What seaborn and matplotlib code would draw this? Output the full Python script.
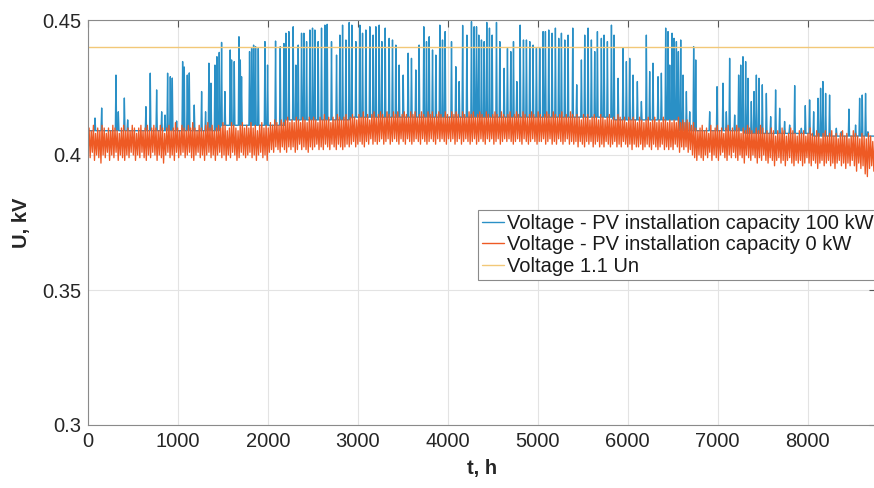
import matplotlib
matplotlib.use("Agg")
import matplotlib.pyplot as plt
import numpy as np
import pandas as pd
import seaborn as sns

# hourly voltage over one year (thinned out)
HOURS = 8760
DAY = 24          # orange band: one low (night) and one high per day

# PV 0 kW: daily low / high of the band, 15 days per row
orange_lo = [
    0.400, 0.399, 0.401, 0.398, 0.400, 0.399, 0.397, 0.400, 0.399, 0.401, 0.398, 0.400, 0.399, 0.401, 0.398,
    0.400, 0.399, 0.398, 0.400, 0.399, 0.401, 0.400, 0.398, 0.400, 0.399, 0.401, 0.399, 0.398, 0.400, 0.399,
    0.401, 0.400, 0.398, 0.400, 0.399, 0.397, 0.400, 0.401, 0.399, 0.400, 0.398, 0.401, 0.399, 0.400, 0.401,
    0.399, 0.400, 0.401, 0.399, 0.398, 0.400, 0.401, 0.399, 0.400, 0.398, 0.400, 0.401, 0.399, 0.400, 0.398,
    0.400, 0.401, 0.399, 0.400, 0.398, 0.400, 0.399, 0.401, 0.400, 0.398, 0.399, 0.401, 0.400, 0.399, 0.400,
    0.401, 0.399, 0.400, 0.398, 0.400, 0.401, 0.399, 0.400, 0.398, 0.401, 0.402, 0.401, 0.403, 0.402, 0.401,
    0.403, 0.402, 0.401, 0.403, 0.402, 0.403, 0.401, 0.402, 0.404, 0.402, 0.403, 0.402, 0.401, 0.403, 0.402,
    0.403, 0.404, 0.402, 0.403, 0.402, 0.404, 0.403, 0.402, 0.404, 0.403, 0.402, 0.404, 0.403, 0.402, 0.403,
    0.404, 0.403, 0.404, 0.405, 0.403, 0.404, 0.405, 0.404, 0.403, 0.405, 0.404, 0.406, 0.404, 0.405, 0.404,
    0.405, 0.406, 0.404, 0.405, 0.406, 0.404, 0.405, 0.406, 0.405, 0.404, 0.406, 0.405, 0.404, 0.406, 0.405,
    0.404, 0.405, 0.406, 0.405, 0.404, 0.406, 0.405, 0.404, 0.405, 0.406, 0.405, 0.404, 0.406, 0.405, 0.406,
    0.405, 0.404, 0.406, 0.405, 0.406, 0.404, 0.405, 0.406, 0.404, 0.405, 0.406, 0.405, 0.404, 0.405, 0.406,
    0.404, 0.405, 0.406, 0.405, 0.404, 0.406, 0.405, 0.406, 0.404, 0.405, 0.406, 0.404, 0.405, 0.406, 0.405,
    0.406, 0.405, 0.404, 0.405, 0.406, 0.405, 0.404, 0.406, 0.405, 0.404, 0.405, 0.406, 0.405, 0.404, 0.405,
    0.405, 0.406, 0.404, 0.405, 0.406, 0.404, 0.405, 0.404, 0.406, 0.405, 0.404, 0.405, 0.406, 0.404, 0.405,
    0.404, 0.405, 0.403, 0.405, 0.404, 0.403, 0.405, 0.404, 0.405, 0.403, 0.404, 0.405, 0.403, 0.404, 0.403,
    0.405, 0.404, 0.403, 0.404, 0.405, 0.403, 0.404, 0.403, 0.405, 0.404, 0.403, 0.404, 0.402, 0.404, 0.403,
    0.403, 0.404, 0.402, 0.403, 0.404, 0.403, 0.402, 0.404, 0.403, 0.402, 0.403, 0.404, 0.402, 0.403, 0.402,
    0.403, 0.402, 0.404, 0.403, 0.401, 0.403, 0.402, 0.403, 0.401, 0.402, 0.400, 0.399, 0.398, 0.400, 0.399,
    0.398, 0.400, 0.399, 0.401, 0.398, 0.400, 0.399, 0.398, 0.400, 0.401, 0.399, 0.398, 0.400, 0.399, 0.401,
    0.399, 0.398, 0.400, 0.399, 0.397, 0.400, 0.399, 0.398, 0.400, 0.399, 0.397, 0.399, 0.398, 0.400, 0.398,
    0.397, 0.399, 0.398, 0.396, 0.398, 0.399, 0.397, 0.398, 0.396, 0.398, 0.399, 0.397, 0.396, 0.398, 0.397,
    0.398, 0.396, 0.397, 0.399, 0.397, 0.396, 0.398, 0.397, 0.395, 0.397, 0.398, 0.396, 0.397, 0.398, 0.396,
    0.397, 0.395, 0.397, 0.398, 0.396, 0.397, 0.395, 0.397, 0.396, 0.398, 0.396, 0.394, 0.397, 0.395, 0.396,
    0.393, 0.392, 0.395, 0.396, 0.394,
]
orange_hi = [
    0.410, 0.409, 0.411, 0.408, 0.410, 0.409, 0.411, 0.410, 0.408, 0.410, 0.409, 0.411, 0.410, 0.409, 0.408,
    0.410, 0.411, 0.409, 0.410, 0.409, 0.411, 0.410, 0.408, 0.410, 0.411, 0.409, 0.410, 0.411, 0.409, 0.410,
    0.411, 0.410, 0.409, 0.411, 0.410, 0.408, 0.410, 0.411, 0.409, 0.410, 0.412, 0.410, 0.409, 0.411, 0.410,
    0.409, 0.411, 0.410, 0.412, 0.410, 0.409, 0.411, 0.410, 0.409, 0.411, 0.412, 0.410, 0.411, 0.409, 0.410,
    0.411, 0.410, 0.412, 0.411, 0.409, 0.410, 0.412, 0.411, 0.410, 0.409, 0.411, 0.412, 0.410, 0.411, 0.410,
    0.412, 0.410, 0.411, 0.409, 0.411, 0.412, 0.410, 0.411, 0.410, 0.412, 0.411, 0.413, 0.412, 0.411, 0.413,
    0.412, 0.413, 0.414, 0.412, 0.413, 0.412, 0.414, 0.413, 0.412, 0.414, 0.413, 0.412, 0.414, 0.413, 0.414,
    0.413, 0.412, 0.414, 0.413, 0.415, 0.413, 0.414, 0.412, 0.414, 0.413, 0.415, 0.414, 0.413, 0.414, 0.415,
    0.413, 0.414, 0.415, 0.414, 0.413, 0.415, 0.414, 0.416, 0.414, 0.415, 0.413, 0.415, 0.416, 0.414, 0.415,
    0.416, 0.415, 0.414, 0.416, 0.415, 0.414, 0.416, 0.415, 0.416, 0.414, 0.415, 0.416, 0.415, 0.414, 0.416,
    0.415, 0.416, 0.414, 0.415, 0.416, 0.415, 0.414, 0.416, 0.415, 0.416, 0.414, 0.415, 0.416, 0.415, 0.414,
    0.416, 0.415, 0.414, 0.416, 0.415, 0.416, 0.415, 0.414, 0.416, 0.415, 0.414, 0.416, 0.415, 0.416, 0.414,
    0.415, 0.416, 0.415, 0.414, 0.416, 0.415, 0.414, 0.415, 0.416, 0.415, 0.414, 0.416, 0.415, 0.414, 0.415,
    0.416, 0.414, 0.415, 0.416, 0.415, 0.414, 0.416, 0.415, 0.414, 0.415, 0.416, 0.415, 0.414, 0.416, 0.415,
    0.414, 0.415, 0.416, 0.415, 0.414, 0.416, 0.415, 0.414, 0.415, 0.416, 0.414, 0.415, 0.414, 0.416, 0.415,
    0.414, 0.415, 0.414, 0.413, 0.415, 0.414, 0.415, 0.413, 0.414, 0.415, 0.414, 0.413, 0.415, 0.414, 0.413,
    0.414, 0.415, 0.413, 0.414, 0.413, 0.415, 0.414, 0.413, 0.414, 0.412, 0.414, 0.413, 0.414, 0.413, 0.412,
    0.414, 0.413, 0.412, 0.413, 0.414, 0.412, 0.413, 0.414, 0.412, 0.413, 0.412, 0.414, 0.413, 0.412, 0.413,
    0.412, 0.413, 0.412, 0.414, 0.412, 0.413, 0.412, 0.413, 0.412, 0.411, 0.412, 0.410, 0.409, 0.410, 0.411,
    0.409, 0.410, 0.408, 0.411, 0.409, 0.410, 0.411, 0.409, 0.410, 0.408, 0.410, 0.411, 0.409, 0.410, 0.409,
    0.411, 0.410, 0.408, 0.410, 0.409, 0.411, 0.410, 0.409, 0.408, 0.410, 0.409, 0.411, 0.410, 0.408, 0.409,
    0.408, 0.410, 0.409, 0.407, 0.409, 0.408, 0.410, 0.409, 0.407, 0.408, 0.410, 0.409, 0.408, 0.407, 0.409,
    0.408, 0.409, 0.407, 0.408, 0.410, 0.408, 0.407, 0.409, 0.408, 0.406, 0.408, 0.409, 0.407, 0.408, 0.409,
    0.407, 0.408, 0.406, 0.408, 0.409, 0.407, 0.408, 0.406, 0.407, 0.409, 0.408, 0.407, 0.406, 0.408, 0.407,
    0.406, 0.408, 0.407, 0.405, 0.407,
]

# PV 100 kW: midday spikes (hour, peak kV)
spike_t = [
    78, 152, 311, 337, 404, 441, 644, 692, 763, 819, 856, 885, 915, 937, 985,
    1052, 1070, 1104, 1126, 1181, 1263, 1307, 1344, 1367, 1411, 1433, 1459,
    1485, 1522, 1581, 1596, 1626, 1678, 1693, 1707, 1796, 1819, 1841, 1863,
    1893, 1967, 1996, 2085, 2137, 2178,
    2200, 2233, 2281, 2311, 2337, 2374, 2400, 2430, 2467, 2496, 2522, 2559,
    2596, 2633, 2659, 2707, 2763, 2800, 2830, 2867, 2904, 2933, 2978, 3022,
    3052, 3089, 3133, 3170, 3200, 3237, 3267, 3304, 3348, 3385, 3422, 3459,
    3504, 3559, 3596, 3644, 3681, 3733, 3763, 3793, 3830, 3867, 3911, 3941,
    3970, 4041, 4089, 4126, 4165, 4212,
    4263, 4293, 4319, 4344, 4374, 4404, 4433, 4463, 4493, 4541, 4578, 4626,
    4663, 4700, 4730, 4767, 4804, 4841, 4874, 4911, 4948, 4985, 5022, 5059,
    5085, 5122, 5159, 5196, 5233, 5263, 5300, 5337, 5389, 5433, 5485, 5522,
    5559, 5596, 5633, 5663, 5707, 5737, 5774, 5819, 5848, 5893, 5948, 5985,
    6022, 6059, 6107, 6152, 6207,
    6244, 6281, 6337, 6374, 6422, 6448, 6467, 6493, 6515, 6541, 6563, 6589,
    6615, 6652, 6689, 6733, 6756, 6911, 6993, 7059, 7096, 7133, 7189, 7233,
    7256, 7281, 7311, 7337, 7374, 7404, 7430, 7459, 7496, 7541, 7589, 7644,
    7689, 7744, 7800, 7856, 7930, 7974, 8022, 8067, 8115, 8144, 8170, 8200,
    8244, 8319, 8374, 8459, 8533, 8578, 8607, 8644, 8670,
]
spike_u = [
    0.4137, 0.4174, 0.4296, 0.4160, 0.4211, 0.4130, 0.4179, 0.4303, 0.4241,
    0.4160, 0.4148, 0.4303, 0.4290, 0.4285, 0.4126, 0.4346, 0.4326, 0.4296,
    0.4304, 0.4185, 0.4235, 0.4160, 0.4340, 0.4266, 0.4333, 0.4364, 0.4380,
    0.4417, 0.4235, 0.4389, 0.4352, 0.4346, 0.4438, 0.4352, 0.4290, 0.4383,
    0.4395, 0.4407, 0.4401, 0.4395, 0.4420, 0.4333, 0.4422, 0.4401, 0.4413,
    0.4451, 0.4457, 0.4475, 0.4333, 0.4407, 0.4451, 0.4451, 0.4420, 0.4463,
    0.4470, 0.4463, 0.4420, 0.4470, 0.4481, 0.4484, 0.4420, 0.4370, 0.4444,
    0.4481, 0.4426, 0.4491, 0.4481, 0.4420, 0.4481, 0.4451, 0.4463, 0.4475,
    0.4444, 0.4475, 0.4481, 0.4420, 0.4470, 0.4432, 0.4426, 0.4407, 0.4333,
    0.4296, 0.4377, 0.4358, 0.4315, 0.4407, 0.4475, 0.4420, 0.4438, 0.4389,
    0.4370, 0.4481, 0.4426, 0.4457, 0.4420, 0.4327, 0.4272, 0.4480, 0.4444,
    0.4494, 0.4475, 0.4475, 0.4444, 0.4426, 0.4420, 0.4491, 0.4470, 0.4444,
    0.4491, 0.4420, 0.4321, 0.4395, 0.4383, 0.4420, 0.4272, 0.4481, 0.4426,
    0.4426, 0.4420, 0.4407, 0.4395, 0.4395, 0.4457, 0.4457, 0.4463, 0.4451,
    0.4470, 0.4432, 0.4451, 0.4426, 0.4444, 0.4470, 0.4260, 0.4352, 0.4444,
    0.4470, 0.4426, 0.4383, 0.4457, 0.4432, 0.4444, 0.4420, 0.4481, 0.4444,
    0.4284, 0.4395, 0.4346, 0.4358, 0.4296, 0.4272, 0.4198, 0.4444,
    0.4309, 0.4340, 0.4290, 0.4303, 0.4470, 0.4457, 0.4333, 0.4451, 0.4432,
    0.4420, 0.4383, 0.4426, 0.4296, 0.4235, 0.4160, 0.4401, 0.4352, 0.4160,
    0.4253, 0.4266, 0.4160, 0.4358, 0.4148, 0.4296, 0.4333, 0.4364, 0.4346,
    0.4284, 0.4198, 0.4235, 0.4296, 0.4284, 0.4260, 0.4228, 0.4142, 0.4241,
    0.4173, 0.4124, 0.4111, 0.4257, 0.4099, 0.4183, 0.4204, 0.4160, 0.4210,
    0.4247, 0.4272, 0.4228, 0.4222, 0.4099, 0.4086, 0.4170, 0.4111, 0.4210,
    0.4222, 0.4228, 0.4086,
]
# level of the PV 100 kW curve between spikes, per month (near the top of the band)
blue_base = [0.409, 0.409, 0.411, 0.413, 0.414, 0.414,
             0.414, 0.414, 0.413, 0.409, 0.408, 0.407]
u_limit = 0.44   # 1.1 Un

labels = ["Voltage - PV installation capacity 100 kW",
          "Voltage - PV installation capacity 0 kW",
          "Voltage 1.1 Un"]
colors = ["#2a90c6", "#ee5a24", "#f2c878"]

# build the curves
bt, bu = [0], [blue_base[0]]
for t, u in zip(spike_t, spike_u):
    base = blue_base[min(t // 730, 11)]
    bt += [t - 7, t, t + 7]
    bu += [base, u, base]
bt.append(HOURS)
bu.append(blue_base[-1])
blue = pd.DataFrame({"t": bt, "u": bu})

ot, ou = [], []
for d, (lo, hi) in enumerate(zip(orange_lo, orange_hi)):
    ot += [d * DAY, d * DAY + DAY // 2]
    ou += [lo, hi]
orange = pd.DataFrame({"t": ot, "u": ou})

limit = pd.DataFrame({"t": [0, HOURS], "u": [u_limit, u_limit]})

sns.set_theme(style="white")
plt.rcParams["font.family"] = ["Liberation Sans", "DejaVu Sans"]

fig = plt.figure(figsize=(8.74, 4.88), dpi=100)
ax = fig.add_axes([88 / 874, 63 / 488, 788 / 874, 405 / 488])

sns.lineplot(data=blue, x="t", y="u", sort=False, estimator=None,
             color=colors[0], lw=1.0, label=labels[0], ax=ax)
sns.lineplot(data=orange, x="t", y="u", sort=False, estimator=None,
             color=colors[1], lw=0.95, label=labels[1], ax=ax)
sns.lineplot(data=limit, x="t", y="u", sort=False, estimator=None,
             color=colors[2], lw=1.0, label=labels[2], ax=ax)

ax.set_xlim(0, HOURS)
ax.set_ylim(0.3, 0.45)
ax.set_xticks(np.arange(0, 8001, 1000))
ax.set_yticks([0.3, 0.35, 0.4, 0.45])
ax.set_yticklabels(["0.3", "0.35", "0.4", "0.45"])
ax.grid(True, color="#e3e3e3", lw=0.8)
ax.set_axisbelow(True)
ax.tick_params(direction="in", length=5, width=0.8, top=True, right=True,
               color="#555555", labelcolor="#262626", labelsize=14.5, pad=5)
for s in ax.spines.values():
    s.set_visible(True)
    s.set_color("#8a8a8a")
    s.set_linewidth(0.8)

ax.set_xlabel("t, h", fontsize=14.5, fontweight="bold", color="#262626", labelpad=6)
ax.set_ylabel("U, kV", fontsize=14.5, fontweight="bold", color="#262626", labelpad=8)

leg = ax.legend(loc="upper left", bbox_to_anchor=(0.495, 0.531), borderaxespad=0,
                fontsize=14.5, fancybox=False, framealpha=1, edgecolor="#8a8a8a",
                handlelength=1.1, handletextpad=0.15, borderpad=0.2,
                labelspacing=0.12)
leg.get_frame().set_linewidth(0.8)
for line in leg.get_lines():
    line.set_linewidth(1.0)
for txt in leg.get_texts():
    txt.set_color("#1a1a1a")

fig.savefig("out.png", dpi=100)
